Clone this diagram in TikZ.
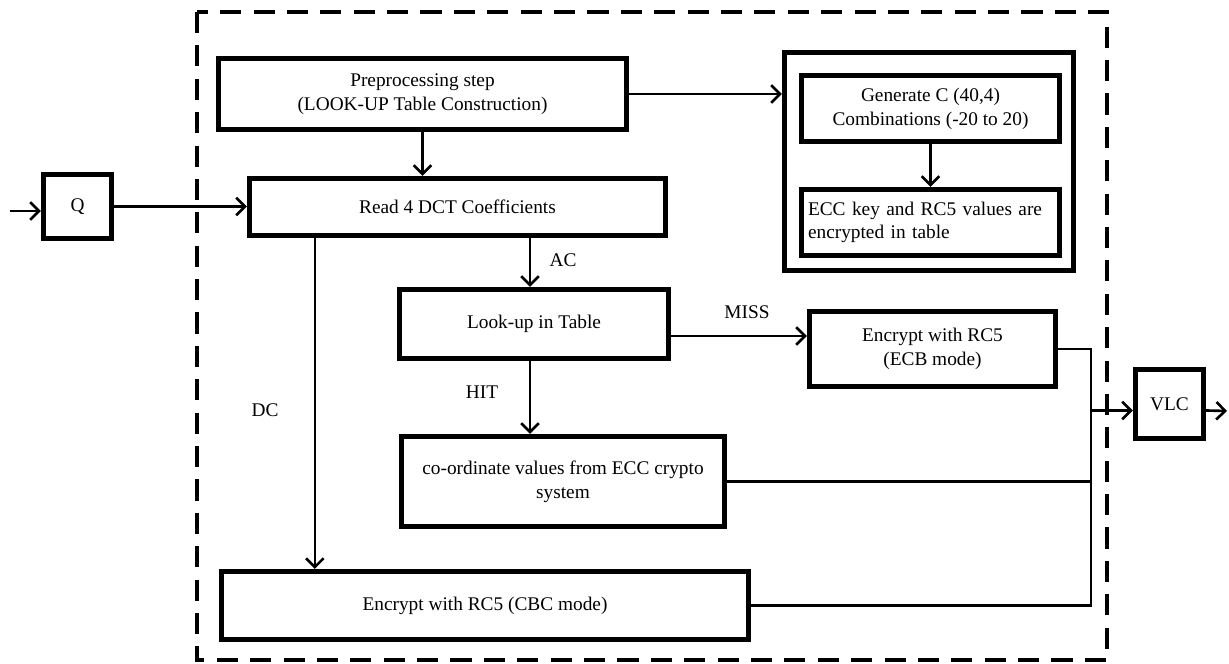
\documentclass[tikz,border=0pt]{standalone}
\usepackage{fontspec}
\setmainfont{Liberation Serif}
\usetikzlibrary{arrows.meta, positioning, calc}

\begin{document}
\begin{tikzpicture}[
  blk/.style={rectangle,draw,line width=3pt,inner sep=3pt,align=center,font=\fontsize{11}{13.5}\selectfont},
  lbl/.style={font=\fontsize{11}{13.5}\selectfont},
  fl/.style={-{Straight Barb[length=5pt,width=10pt]},line width=1.5pt},
  ln/.style={line width=1.5pt}
]
  \useasboundingbox (0,0) rectangle (24.58,-13.28);
  \draw[line width=1.8pt,dash pattern=on 12pt off 7pt] (3.94,-0.24) rectangle (22.14,-13.2);

  \node[blk,minimum width=8.16cm,minimum height=1.42cm](pre) at (8.45,-1.88){Preprocessing step\\(LOOK-UP Table Construction)};
  \node[blk,minimum width=8.32cm,minimum height=1.14cm](read) at (9.15,-4.14){Read 4 DCT Coefficients};
  \node[blk,minimum width=1.36cm,minimum height=1.28cm](q) at (1.55,-4.13){Q};
  \node[blk,minimum width=5.78cm,minimum height=4.36cm](gbox) at (18.58,-3.23){};
  \node[blk,minimum width=5.16cm,minimum height=1.32cm](gen) at (18.61,-2.17){Generate C (40,4)\\Combinations (-20 to 20)};
  \node[blk,minimum width=5.16cm,minimum height=1.32cm,text width=4.9cm,align=left](ecc) at (18.61,-4.45){ECC key and RC5 values are encrypted in table};
  \node[blk,minimum width=5.38cm,minimum height=1.38cm](look) at (10.68,-6.48){Look-up in Table};
  \node[blk,minimum width=4.92cm,minimum height=1.5cm](ecb) at (18.65,-6.98){Encrypt with RC5\\(ECB mode)};
  \node[blk,minimum width=6.46cm,minimum height=1.8cm](coord) at (11.26,-9.63){co-ordinate values from ECC crypto\\system};
  \node[blk,minimum width=10.54cm,minimum height=1.36cm](cbc) at (9.70,-12.11){Encrypt with RC5 (CBC mode)};
  \node[blk,minimum width=1.36cm,minimum height=1.38cm](vlc) at (23.39,-8.08){VLC};

  \node[lbl](ac) at (11.26,-5.2){AC};
  \node[lbl](dc) at (5.3,-8.2){DC};
  \node[lbl](miss) at (14.94,-6.24){MISS};
  \node[lbl](hit) at (9.64,-7.84){HIT};

  \coordinate (src) at (0.2,-4.22);
  \coordinate (jn) at (21.82,-7.0);
  \coordinate (outp) at (24.54,-8.22);

  \draw[fl](src)--(src -| q.west);
  \draw[fl](q.east)--(q.east -| read.west);
  \draw[fl](pre.south)--(pre.south |- read.north);
  \draw[fl](pre.east)--(pre.east -| gbox.west);
  \draw[fl](gen.south)--(ecc.north);
  \draw[fl]([xshift=-0.08cm]look.north |- read.south)--([xshift=-0.08cm]look.north);
  \draw[fl]([xshift=1.36cm]read.south west)--([xshift=1.36cm]read.south west |- cbc.north);
  \draw[fl]([yshift=-0.24cm]look.east)--([yshift=-0.24cm]look.east -| ecb.west);
  \draw[fl]([xshift=-0.08cm]look.south)--([xshift=-0.08cm]look.south |- coord.north);
  \draw[ln](ecb.east)-|(cbc.east -| jn)--(cbc.east);
  \draw[ln](coord.east)--(coord.east -| jn);
  \draw[fl]([yshift=-0.13cm]vlc.west -| jn)--([yshift=-0.13cm]vlc.west);
  \draw[fl]([yshift=-0.13cm]vlc.east)--(outp);
\end{tikzpicture}
\end{document}
